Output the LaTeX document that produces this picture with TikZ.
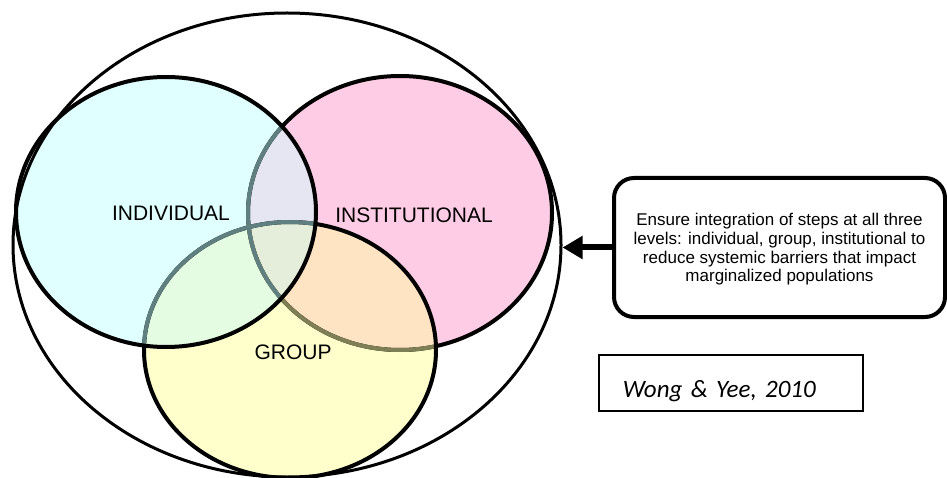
\documentclass[tikz,border=0pt]{standalone}
\usepackage{fontspec}
\setmainfont{Liberation Sans}
\newfontfamily\citefont{Carlito}
\usetikzlibrary{shapes.geometric,arrows.meta}

\definecolor{indivfill}{HTML}{E0FFFF}
\definecolor{instfill}{HTML}{FFCCE6}
\definecolor{groupfill}{HTML}{FFFFCC}
\definecolor{indivinst}{HTML}{E6E6F2}
\definecolor{indivgroup}{HTML}{E4FCE2}
\definecolor{instgroup}{HTML}{FFE4C4}
\definecolor{allthree}{HTML}{E4EEDA}
\definecolor{tealline}{HTML}{5F7F80}
\definecolor{oliveline}{HTML}{7F7F55}

\begin{document}
\begin{tikzpicture}[
    x=1pt, y=-1pt,
    venn/.style={black,line width=4pt},
    outline/.style={ellipse,draw,line width=3pt,inner sep=0pt,
      minimum width=548pt,minimum height=464pt},
    label/.style={font=\fontsize{21}{25}\selectfont,inner sep=0pt},
    note/.style={draw,line width=4pt,rounded corners=20pt,
      minimum width=331pt,minimum height=139pt,text depth=-4pt,
      align=center,inner sep=0pt,font=\fontsize{17}{18.7}\selectfont},
    source/.style={draw,line width=1.5pt,anchor=west,minimum height=56pt,
      inner xsep=24pt,text width=216pt,align=left,
      text height=34pt,text depth=6pt,font=\citefont\itshape\fontsize{25}{30}\selectfont},
    pointer/.style={-{Triangle[length=20pt,width=22pt]},line width=6pt},
  ]
  \useasboundingbox (0,0) rectangle (947,478);

  % Venn ellipses
  \def\indiv{(166,212) ellipse [x radius=150, y radius=135]}
  \def\inst{(400,213) ellipse [x radius=152, y radius=137]}
  \def\grp{(290,350) ellipse [x radius=146, y radius=128]}

  % Fills
  \fill[instfill] \inst;
  \fill[groupfill] \grp;
  \fill[indivfill] \indiv;
  \begin{scope}
    \clip \inst;
    \fill[instgroup] \grp;
  \end{scope}
  \begin{scope}
    \clip \indiv;
    \fill[indivinst] \inst;
    \fill[indivgroup] \grp;
    \clip \inst;
    \fill[allthree] \grp;
  \end{scope}

  % Borders (lower ones show through the upper fills)
  \draw[venn] \inst;
  \begin{scope}
    \clip \grp;
    \draw[venn,oliveline] \inst;
  \end{scope}
  \draw[venn] \grp;
  \begin{scope}
    \clip \indiv;
    \draw[venn,tealline] \inst;
    \draw[venn,tealline] \grp;
  \end{scope}
  \draw[venn] \indiv;

  % Outer ellipse
  \node[outline] (outer) at (287,245) {};

  % Labels
  \node[label] (individual) at (171,213) {INDIVIDUAL};
  \node[label] (institutional) at (414,215) {INSTITUTIONAL};
  \node[label] (group) at (293,352) {GROUP};

  % Note and source
  \node[note] (note) at (779.5,247.5)
    {Ensure integration of steps at all three\\
     levels: individual, group, institutional to\\
     reduce systemic barriers that impact\\
     marginalized populations};
  \node[source] (cite) at (598,383) {Wong \& Yee, 2010};

  \draw[pointer] (note.west) -- (note.west -| outer.east);
\end{tikzpicture}
\end{document}
